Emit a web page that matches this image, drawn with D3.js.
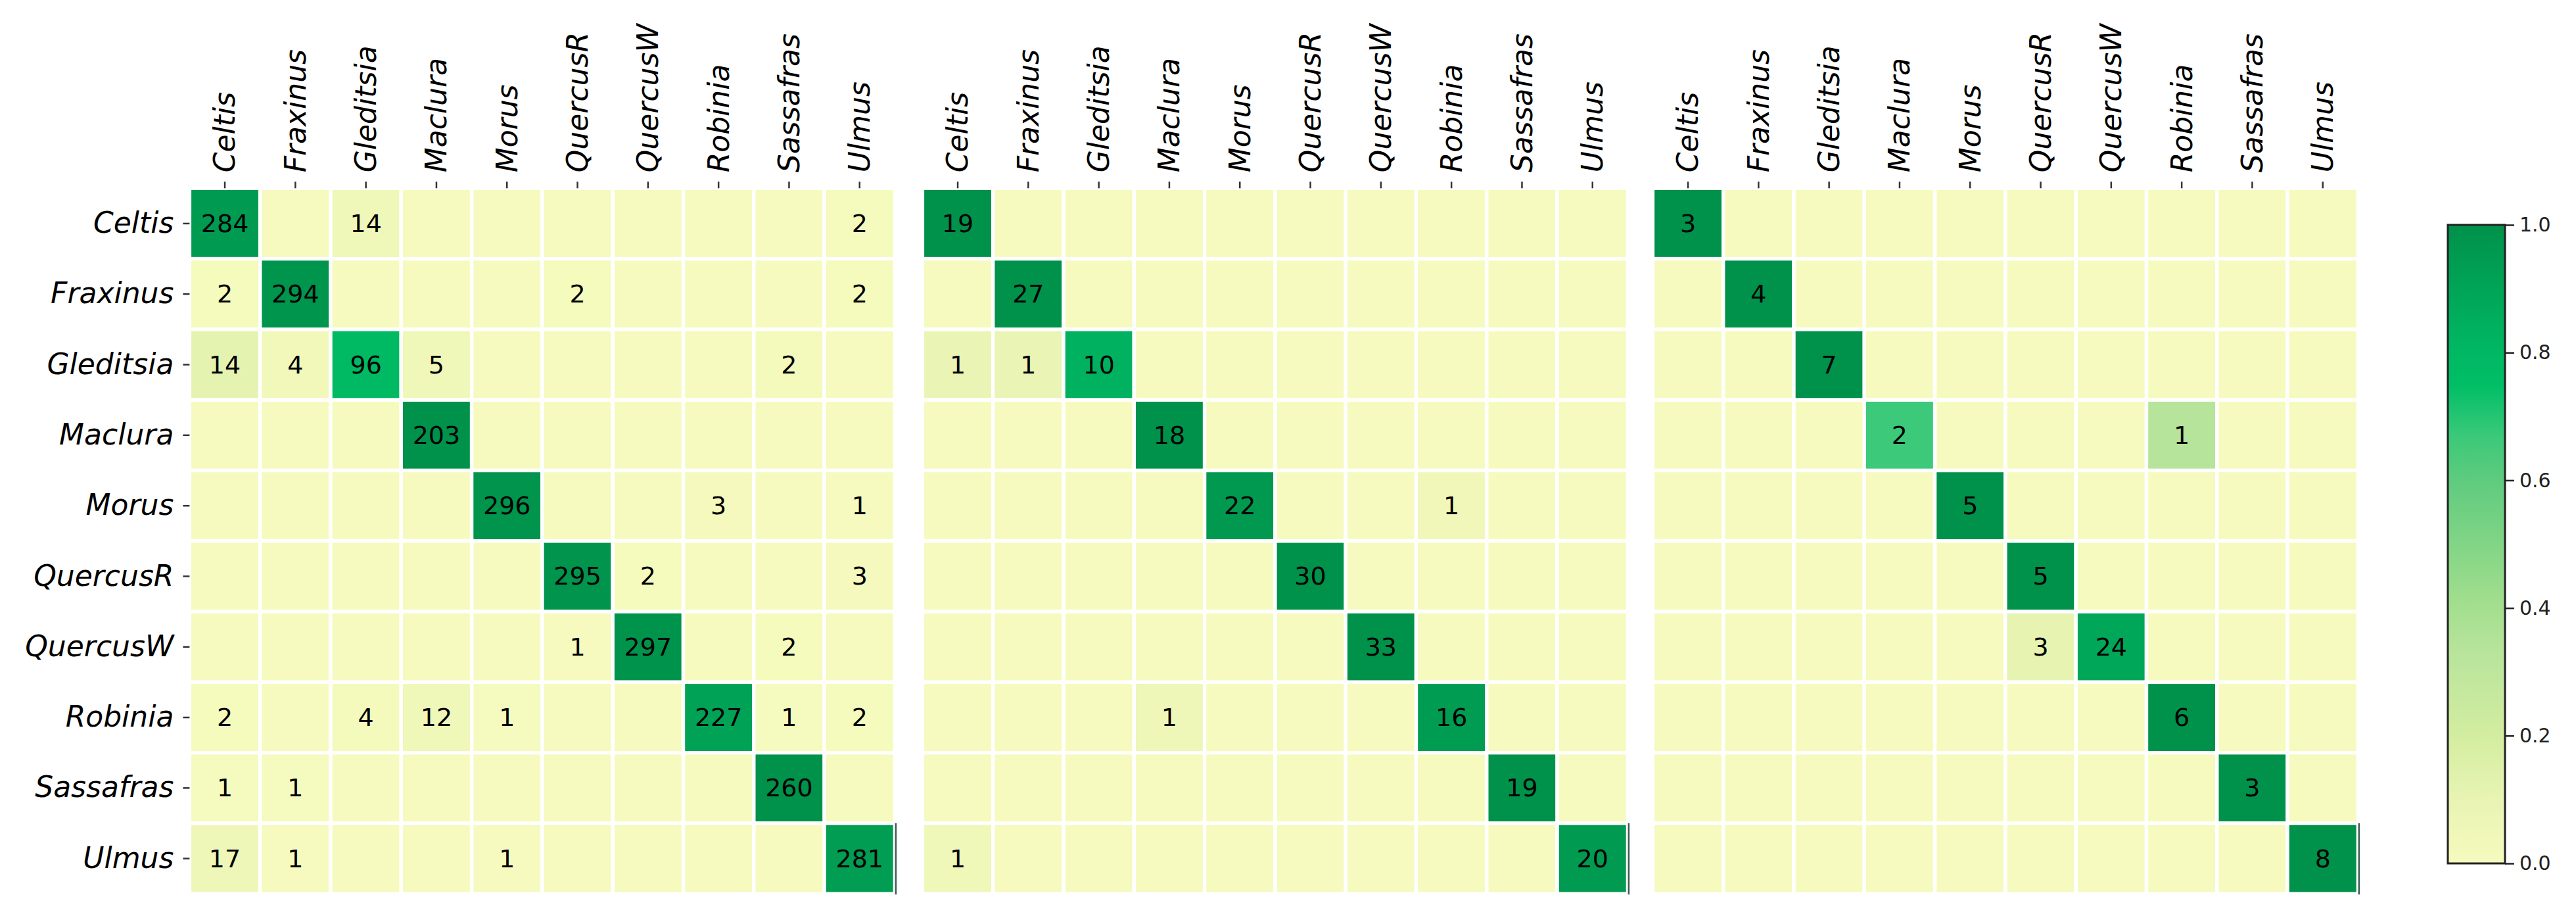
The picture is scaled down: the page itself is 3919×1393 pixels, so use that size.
<!DOCTYPE html>
<html><head><meta charset="utf-8">
<script src="https://cdn.jsdelivr.net/npm/d3@7"></script>
<style>html,body{margin:0;padding:0;background:#fff;} svg{display:block;}</style>
</head><body>
<svg id="chart" width="3919" height="1393"></svg>
<script>
const species = ["Celtis","Fraxinus","Gleditsia","Maclura","Morus","QuercusR","QuercusW","Robinia","Sassafras","Ulmus"];

const countsA = [
  [284,0,14,0,0,0,0,0,0,2],
  [2,294,0,0,0,2,0,0,0,2],
  [14,4,96,5,0,0,0,0,2,0],
  [0,0,0,203,0,0,0,0,0,0],
  [0,0,0,0,296,0,0,3,0,1],
  [0,0,0,0,0,295,2,0,0,3],
  [0,0,0,0,0,1,297,0,2,0],
  [2,0,4,12,1,0,0,227,1,2],
  [1,1,0,0,0,0,0,0,260,0],
  [17,1,0,0,1,0,0,0,0,281]
];
const countsB = [
  [19,0,0,0,0,0,0,0,0,0],
  [0,27,0,0,0,0,0,0,0,0],
  [1,1,10,0,0,0,0,0,0,0],
  [0,0,0,18,0,0,0,0,0,0],
  [0,0,0,0,22,0,0,1,0,0],
  [0,0,0,0,0,30,0,0,0,0],
  [0,0,0,0,0,0,33,0,0,0],
  [0,0,0,1,0,0,0,16,0,0],
  [0,0,0,0,0,0,0,0,19,0],
  [1,0,0,0,0,0,0,0,0,20]
];
const countsC = [
  [3,0,0,0,0,0,0,0,0,0],
  [0,4,0,0,0,0,0,0,0,0],
  [0,0,7,0,0,0,0,0,0,0],
  [0,0,0,2,0,0,0,1,0,0],
  [0,0,0,0,5,0,0,0,0,0],
  [0,0,0,0,0,5,0,0,0,0],
  [0,0,0,0,0,3,24,0,0,0],
  [0,0,0,0,0,0,0,6,0,0],
  [0,0,0,0,0,0,0,0,3,0],
  [0,0,0,0,0,0,0,0,0,8]
];
const colorbarTicks = [0, 0.2, 0.4, 0.6, 0.8, 1.0];
const cmapStops  = [0, 0.1, 0.2, 0.33, 0.4, 0.6, 0.67, 0.75, 0.8, 1];
const cmapColors = ["#f6fabe","#e8f4b3","#d3eda0","#b8e49c","#a4df8e","#5fcb7e","#3ac979","#00be66","#00b863","#00914a"];

const svg = d3.select("#chart");
const font = "'DejaVu Sans', sans-serif";
const gridTop = 286.3, gridSize = 1073;
const panelX = [288.4, 1403.4, 2514.4];
const color = d3.scaleLinear().domain(cmapStops).range(cmapColors).clamp(true);

[countsA, countsB, countsC].forEach((m, pi) => {
  const x = d3.scaleBand().domain(species).range([panelX[pi], panelX[pi] + gridSize]);
  const y = d3.scaleBand().domain(species).range([gridTop, gridTop + gridSize]);
  const g = svg.append("g");
  const cells = [];
  m.forEach((row, i) => {
    const tot = d3.sum(row);
    row.forEach((v, j) => cells.push({r: species[i], c: species[j], v, n: tot ? v / tot : 0}));
  });
  g.selectAll("rect.cell").data(cells).join("rect").attr("class","cell")
    .attr("x", d => x(d.c)).attr("y", d => y(d.r))
    .attr("width", x.bandwidth()).attr("height", y.bandwidth())
    .attr("fill", d => color(d.n)).attr("stroke", "#fff").attr("stroke-width", 5.4);
  g.selectAll("text.val").data(cells.filter(d => d.v > 0)).join("text").attr("class","val")
    .attr("x", d => x(d.c) + x.bandwidth() / 2).attr("y", d => y(d.r) + y.bandwidth() / 2)
    .attr("text-anchor", "middle").attr("dominant-baseline", "central")
    .style("font-family", font).style("font-size", "38px").attr("fill", "#000")
    .text(d => d.v);

  // odd thin dark line at right of last row
  g.append("line")
    .attr("x1", panelX[pi] + gridSize + 1.5).attr("x2", panelX[pi] + gridSize + 1.5)
    .attr("y1", y("Ulmus")).attr("y2", gridTop + gridSize + 1)
    .attr("stroke", "#3d5a55").attr("stroke-width", 2.5);

  const ax = g.append("g").attr("transform", `translate(0,${gridTop})`)
    .call(d3.axisTop(x).tickSize(10).tickPadding(14));
  ax.select(".domain").remove();
  ax.selectAll(".tick line").attr("stroke", "#333").attr("stroke-width", 2.5);
  ax.selectAll(".tick text")
    .attr("transform", "rotate(-90)").attr("x", 24).attr("y", 0).attr("dy", "0.35em")
    .attr("text-anchor", "start")
    .style("font-family", font).style("font-size", "44px").style("font-style", "italic").attr("fill", "#000");

  if (pi === 0) {
    const ay = g.append("g").attr("transform", `translate(${panelX[pi]},0)`)
      .call(d3.axisLeft(y).tickSize(10).tickPadding(14));
    ay.select(".domain").remove();
    ay.selectAll(".tick line").attr("stroke", "#333").attr("stroke-width", 2.5);
    ay.selectAll(".tick text")
      .style("font-family", font).style("font-size", "44px").style("font-style", "italic").attr("fill", "#000");
  }
});

// colorbar
const cbX = 3724, cbW = 87, cbTop = 342, cbBot = 1313;
const defs = svg.append("defs");
const grad = defs.append("linearGradient").attr("id", "cbgrad")
  .attr("x1", 0).attr("y1", 1).attr("x2", 0).attr("y2", 0);
grad.selectAll("stop").data(cmapStops).join("stop")
  .attr("offset", d => d).attr("stop-color", (d, i) => cmapColors[i]);
svg.append("rect").attr("x", cbX).attr("y", cbTop).attr("width", cbW).attr("height", cbBot - cbTop)
  .attr("fill", "url(#cbgrad)").attr("stroke", "#222").attr("stroke-width", 3);
const cbScale = d3.scaleLinear().domain([0, 1]).range([cbBot, cbTop]);
const cax = svg.append("g").attr("transform", `translate(${cbX + cbW},0)`)
  .call(d3.axisRight(cbScale).tickValues(colorbarTicks).tickFormat(d3.format(".1f")).tickSize(14).tickPadding(8));
cax.select(".domain").remove();
cax.selectAll(".tick line").attr("stroke", "#222").attr("stroke-width", 2.5);
cax.selectAll(".tick text").style("font-family", font).style("font-size", "30px").attr("fill", "#222");
</script>
</body></html>
